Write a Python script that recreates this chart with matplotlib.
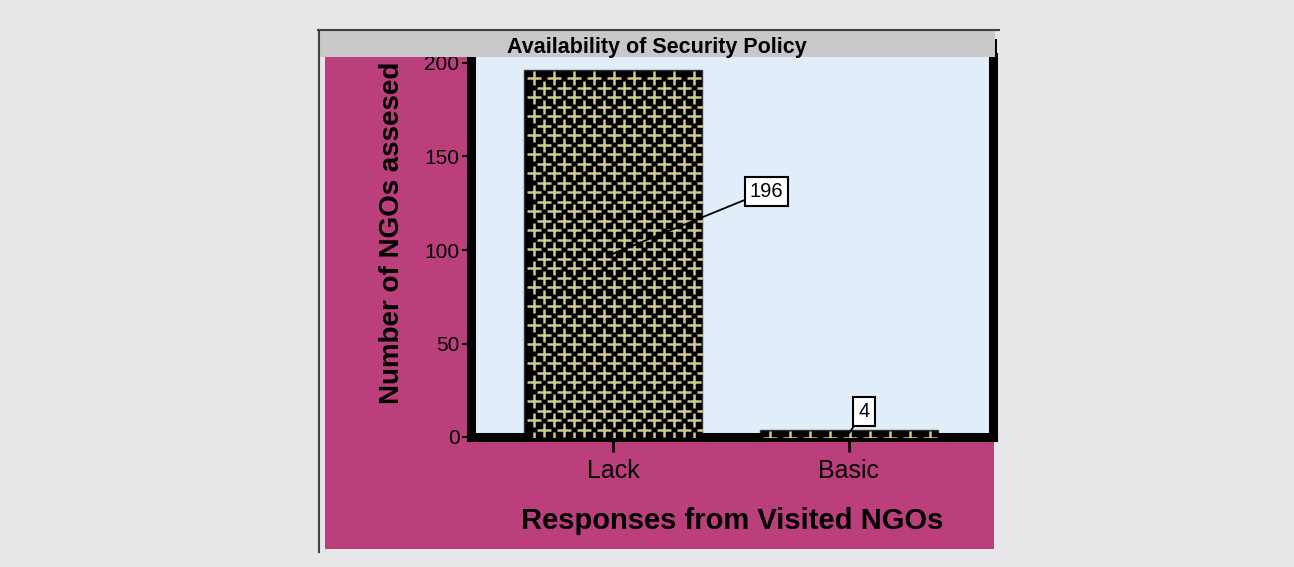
import matplotlib
matplotlib.use("Agg")
import matplotlib.pyplot as plt
import numpy as np
from matplotlib.patches import Rectangle
from matplotlib.lines import Line2D

plt.rcParams['font.family'] = ['Liberation Sans', 'DejaVu Sans']

categories = ["Lack", "Basic"]
counts = [196, 4]
yticks = [0, 50, 100, 150, 200]
title = "Availability of Security Policy"
xlabel = "Responses from Visited NGOs"
ylabel = "Number of NGOs assesed"

W, H = 1294, 567
fig = plt.figure(figsize=(W / 100, H / 100), dpi=100)
fig.patch.set_facecolor('#e6e7e8')

def fx(px):
    return px / W

def fy(py):
    return 1 - py / H

# magenta panel
fig.add_artist(Rectangle((fx(325), fy(549)), fx(994) - fx(325), fy(57) - fy(549),
                         transform=fig.transFigure, facecolor='#bb3f7b', edgecolor='none', zorder=0))

# right black border piece visible beside the title bar
fig.add_artist(Rectangle((fx(989), fy(441)), fx(997.5) - fx(989), fy(39) - fy(441),
                         transform=fig.transFigure, facecolor='black', edgecolor='none', zorder=0.5))

# axes
left, right, bottom, top = 470.5, 993, 437, 57
ax = fig.add_axes([fx(left), fy(bottom), fx(right) - fx(left), fy(top) - fy(bottom)])
ax.set_facecolor('#e1edf9')
k = 1.87
ax.set_ylim(0, (bottom - top) / k)
ax.set_xlim((left - 613) / 236, (right - 613) / 236)

x = np.arange(len(categories))
bars = ax.bar(x, counts, width=0.754, color='black', edgecolor='#333333', linewidth=1, zorder=2)

# cross pattern inside bars
fig.canvas.draw()
inv = ax.transData.inverted()
for b in bars:
    bb = b.get_window_extent()
    xs = np.arange(bb.x0 + 10, bb.x1 + 20, 20)
    ys = np.arange(bb.y1 - 8, bb.y0 - 10, -9.5)
    pts = []
    for i, yy in enumerate(ys):
        off = 0 if i % 2 == 0 else 10
        for xx in xs:
            pts.append((xx + off, yy))
    pts = np.array(pts)
    d = inv.transform(pts)
    sc = ax.scatter(d[:, 0], d[:, 1], marker='+', s=90, linewidths=1.8,
                    color='#d2ca92', zorder=3)
    sc.set_clip_path(b)

ax.spines['top'].set_visible(False)
for s in ['left', 'bottom', 'right']:
    ax.spines[s].set_linewidth(6.5)
    ax.spines[s].set_color('black')
    ax.spines[s].set_capstyle('projecting')

ax.set_yticks(yticks)
ax.set_xticks(x)
ax.set_xticklabels(categories, fontsize=18)
ax.tick_params(axis='y', labelsize=15, length=6.5, width=1.5, pad=1.5)
ax.tick_params(axis='x', length=11, width=2, pad=5)

ax.set_xlabel(xlabel, fontsize=21, fontweight='bold', labelpad=17)
ax.set_ylabel(ylabel, fontsize=20, fontweight='bold')
ax.yaxis.set_label_coords((405 - left) / (right - left), (bottom - 233) / (bottom - top))

# value annotations
box = dict(boxstyle='square,pad=0.25', facecolor='white', edgecolor='black', linewidth=1.5)
ax.annotate(str(counts[0]), xy=(x[0], counts[0] / 2), xytext=(0.65, 131.5),
            fontsize=14.5, ha='center', va='center', bbox=box,
            arrowprops=dict(arrowstyle='-', color='black', lw=1.3, shrinkA=0, shrinkB=0),
            zorder=5)
ax.annotate(str(counts[1]), xy=(x[1], counts[1] / 2), xytext=(1.064, 13.6),
            fontsize=14.5, ha='center', va='center', bbox=box,
            arrowprops=dict(arrowstyle='-', color='black', lw=1.3, shrinkA=0, shrinkB=0),
            zorder=5)

# title bar
fig.add_artist(Rectangle((fx(320), fy(57)), fx(995) - fx(320), fy(31) - fy(57),
                         transform=fig.transFigure, facecolor='#c8c8c8', edgecolor='none', zorder=10))
fig.text(fx(657), fy(47), title, fontsize=15.5, fontweight='bold', ha='center', va='center', zorder=11)

# outer frame lines
fig.add_artist(Line2D([fx(318), fx(999)], [fy(30), fy(30)], transform=fig.transFigure,
                      color='#404040', lw=1.5, zorder=12))
fig.add_artist(Line2D([fx(319), fx(319)], [fy(30), fy(552)], transform=fig.transFigure,
                      color='#404040', lw=1.5, zorder=12))

fig.savefig('out.png', dpi=100, facecolor=fig.get_facecolor())
